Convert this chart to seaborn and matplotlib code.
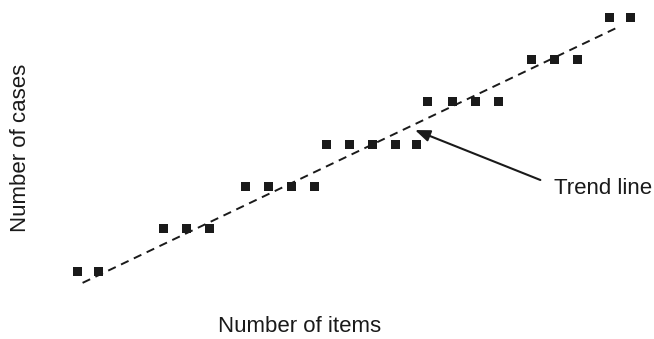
"""
step pattern of cases against items, with a dashed trend line
"""
import matplotlib.pyplot as plt
import seaborn as sns
import pandas as pd

sns.set_style('white')
plt.rcParams['font.family'] = ['Liberation Sans', 'DejaVu Sans']

# data
items = [1.0, 1.9, 4.7, 5.7, 6.7, 8.3, 9.3, 10.3, 11.3, 11.8, 12.8, 13.8,
         14.8, 15.7, 16.2, 17.3, 18.3, 19.3, 20.7, 21.7, 22.7, 24.1, 25.0]
cases = [1, 1, 2, 2, 2, 3, 3, 3, 3, 4, 4, 4,
         4, 4, 5, 5, 5, 5, 6, 6, 6, 7, 7]
trend_x = [1.2, 24.4]
trend_y = [0.72, 6.74]

df = pd.DataFrame({'items': items, 'cases': cases})
trend = pd.DataFrame({'items': trend_x, 'cases': trend_y})

fig = plt.figure(figsize=(6.54, 3.39), dpi=100)
ax = fig.add_axes([0, 0, 1, 1])

sns.lineplot(data=trend, x='items', y='cases', ax=ax, color='#1a1a1a',
             lw=1.4, linestyle=(0, (4.3, 3)))
sns.scatterplot(data=df, x='items', y='cases', ax=ax, marker='s', s=42,
                color='#1a1a1a', edgecolor='none', zorder=3)

ax.annotate('', xy=(15.65, 4.33), xytext=(21.1, 3.15),
            arrowprops=dict(arrowstyle='-|>,head_length=0.9,head_width=0.35',
                            color='#1a1a1a', lw=1.5, shrinkA=0, shrinkB=0))
ax.text(21.7, 2.96, 'Trend line', fontsize=16, va='center', ha='left',
        color='#1a1a1a')

ax.set(xlim=[-2.39, 26.04], ylim=[-0.606, 7.402])
ax.axis('off')

fig.text(21 / 654, 1 - 148 / 339, 'Number of cases', rotation=90,
         ha='center', va='center', fontsize=16, color='#1a1a1a')
fig.text(300 / 654, 1 - 332 / 339, 'Number of items',
         ha='center', va='baseline', fontsize=16, color='#1a1a1a')

fig.savefig('out.png', dpi=100, facecolor='white')
